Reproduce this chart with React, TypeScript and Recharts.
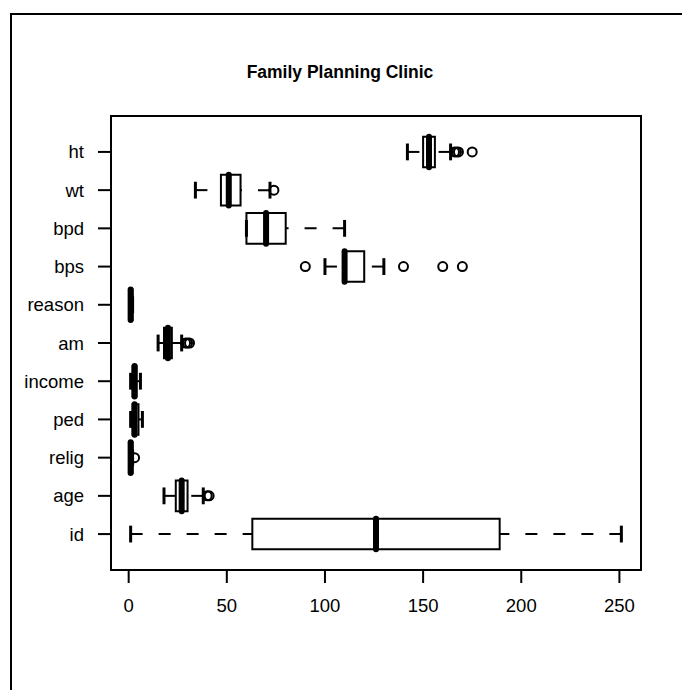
import {
  ReferenceArea,
  ReferenceLine,
  Scatter,
  ScatterChart,
  XAxis,
  YAxis,
} from "recharts";

// bottom to top, as R draws them (position 1 = id)
const names = ["id", "age", "relig", "ped", "income", "am", "reason", "bps", "bpd", "wt", "ht"];
const lows = [1, 18, 1, 1, 1, 15, 1, 100, 60, 34, 142];
const q1s = [63, 24, 1, 2, 2, 18, 1, 110, 60, 47, 150];
const medians = [126, 27, 1, 3, 3, 20, 1, 110, 70, 51, 153];
const q3s = [189, 30, 2, 5, 4, 22, 2, 120, 80, 57, 156];
const highs = [251, 38, 2, 7, 6, 27, 2, 130, 110, 72, 164];
const outliers: number[][] = [
  [],
  [40, 41],
  [3],
  [],
  [],
  [29, 30, 31],
  [],
  [90, 140, 160, 170],
  [],
  [74],
  [166, 167, 168, 175],
];
const xTicks = [0, 50, 100, 150, 200, 250];

const HALF = 0.4; // half box width (boxwex 0.8)
const CAP = 0.22; // half staple length
const font = "'Liberation Sans', Arial, Helvetica, sans-serif";

const outlierPts = outliers.flatMap((vals, i) => vals.map((v) => ({ x: v, y: i + 1 })));

const Ring = (p: any) => (
  <circle cx={p.cx} cy={p.cy} r={4.5} fill="none" stroke="#000" strokeWidth={2} />
);

export default function App() {
  return (
    <div
      style={{
        position: "fixed",
        left: 0,
        top: 0,
        width: 682,
        height: 690,
        overflow: "hidden",
        background: "#fff",
        fontFamily: font,
      }}
    >
      <div
        style={{
          position: "absolute",
          left: 10,
          top: 13,
          width: 720,
          height: 720,
          border: "2px solid #000",
        }}
      />
      <div
        style={{
          position: "absolute",
          left: 140,
          width: 400,
          top: 62,
          textAlign: "center",
          fontSize: 17.5,
          fontWeight: "bold",
          color: "#000",
        }}
      >
        Family Planning Clinic
      </div>
      <div style={{ position: "absolute", left: 0, top: 0 }}>
        <ScatterChart width={682} height={690} margin={{ top: 116, right: 41, bottom: 80, left: 11 }}>
          <XAxis
            type="number"
            dataKey="x"
            domain={[-9, 261]}
            ticks={xTicks}
            allowDataOverflow
            height={40}
            axisLine={false}
            tickSize={13}
            tickMargin={16}
            tickLine={{ stroke: "#000", strokeWidth: 2 }}
            tick={{ fill: "#000", fontSize: 18.5, fontFamily: font }}
          />
          <YAxis
            type="number"
            dataKey="y"
            domain={[0.06, 11.94]}
            ticks={names.map((_, i) => i + 1)}
            allowDataOverflow
            width={100}
            axisLine={false}
            tickSize={13}
            tickMargin={14}
            tickLine={{ stroke: "#000", strokeWidth: 2 }}
            tick={{ fill: "#000", fontSize: 18.5, fontFamily: font }}
            tickFormatter={(v: number) => names[v - 1]}
          />
          {names.map((n, i) => {
            const y = i + 1;
            return [
              <ReferenceLine
                key={n + "-wl"}
                segment={[{ x: lows[i], y }, { x: q1s[i], y }]}
                stroke="#000"
                strokeWidth={2}
                strokeDasharray="12 16"
              />,
              <ReferenceLine
                key={n + "-wh"}
                segment={[{ x: highs[i], y }, { x: q3s[i], y }]}
                stroke="#000"
                strokeWidth={2}
                strokeDasharray="12 16"
              />,
              <ReferenceLine
                key={n + "-cl"}
                segment={[{ x: lows[i], y: y - CAP }, { x: lows[i], y: y + CAP }]}
                stroke="#000"
                strokeWidth={3}
              />,
              <ReferenceLine
                key={n + "-ch"}
                segment={[{ x: highs[i], y: y - CAP }, { x: highs[i], y: y + CAP }]}
                stroke="#000"
                strokeWidth={3}
              />,
              <ReferenceArea
                key={n + "-box"}
                x1={q1s[i]}
                x2={q3s[i]}
                y1={y - HALF}
                y2={y + HALF}
                fill="#fff"
                fillOpacity={1}
                stroke="#000"
                strokeWidth={2}
              />,
              <ReferenceLine
                key={n + "-med"}
                segment={[{ x: medians[i], y: y - HALF }, { x: medians[i], y: y + HALF }]}
                stroke="#000"
                strokeWidth={6}
                strokeLinecap="round"
              />,
            ];
          })}
          <Scatter data={outlierPts} shape={Ring} isAnimationActive={false} />
          <ReferenceArea
            x1={-9}
            x2={261}
            y1={0.06}
            y2={11.94}
            fill="none"
            stroke="#000"
            strokeWidth={2}
          />
        </ScatterChart>
      </div>
    </div>
  );
}
